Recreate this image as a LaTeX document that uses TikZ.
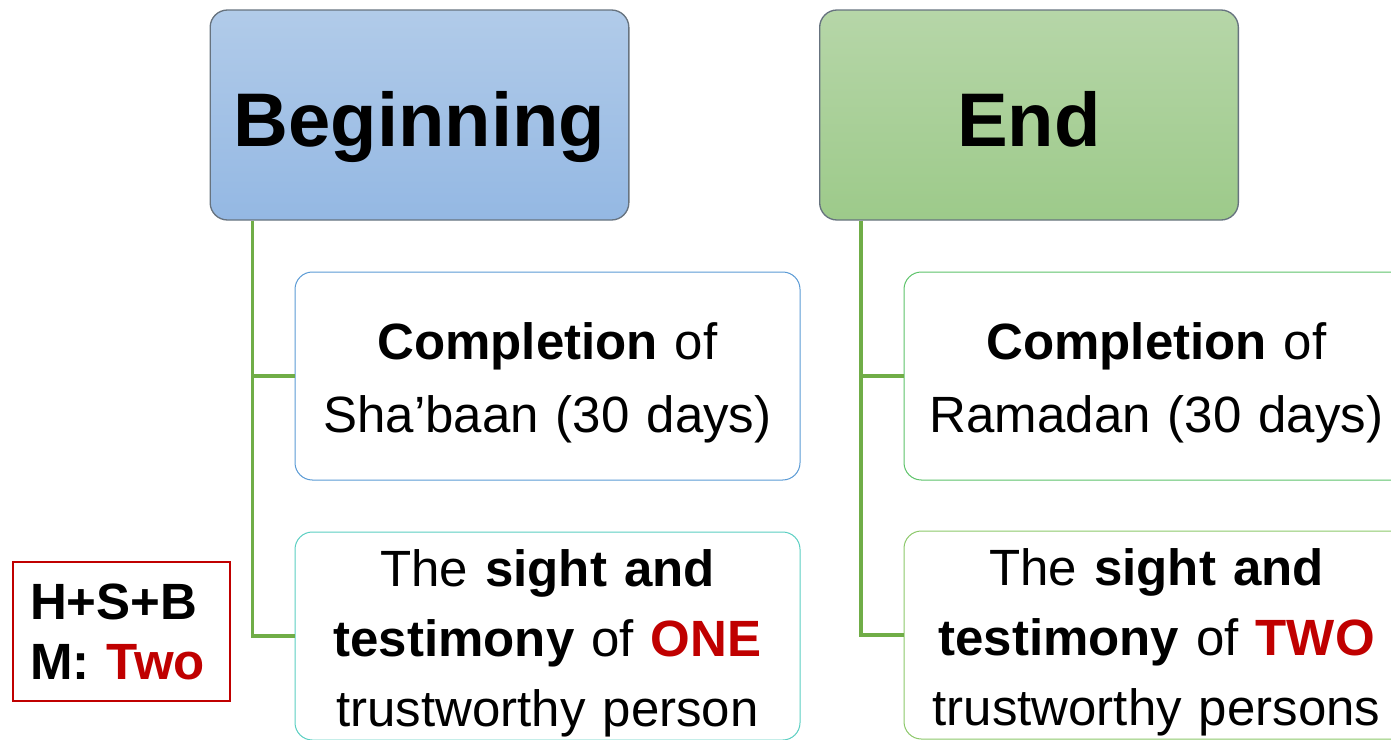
\documentclass[tikz,border=0pt]{standalone}
\usepackage{fontspec}
\setmainfont{Liberation Sans}
\usetikzlibrary{positioning, calc}

\definecolor{blueTop}{HTML}{B1CBE9}
\definecolor{blueBot}{HTML}{94B8E3}
\definecolor{greenTop}{HTML}{B6D6A8}
\definecolor{greenBot}{HTML}{9DCA8A}
\definecolor{headEdge}{HTML}{67737F}
\definecolor{linkGreen}{HTML}{70AD47}
\definecolor{edgeBlue}{HTML}{5B9BD5}
\definecolor{edgeTeal}{HTML}{5BCFC2}
\definecolor{edgeGreen}{HTML}{5DC36A}
\definecolor{edgeLime}{HTML}{8CC86A}
\definecolor{hsbRed}{HTML}{C00000}

\begin{document}
\begin{tikzpicture}[x=0.75pt, y=0.75pt,
  head/.style={rectangle, rounded corners=13pt, draw=headEdge, line width=1pt, minimum width=314pt, minimum height=157.5pt, font=\fontsize{57}{68}\selectfont\bfseries, text height=59.3pt, text depth=11.4pt},
  item/.style={rectangle, rounded corners=13pt, fill=white, line width=0.75pt, minimum width=378.75pt, minimum height=156pt, text width=352pt, align=center, inner sep=4pt, text height=28.7pt},
  comp/.style={item, font=\fontsize{38.25}{54.75}\selectfont, text depth=53pt},
  sight/.style={item, font=\fontsize{38.25}{52.5}\selectfont, text depth=103.5pt},
  note/.style={rectangle, draw=hsbRed, line width=1pt, minimum width=162.75pt, minimum height=104.25pt, text width=137pt, align=left, inner sep=2pt, font=\fontsize{38.25}{45}\selectfont\bfseries, text height=28.7pt, text depth=46pt},
  link/.style={draw=linkGreen, line width=2.3pt}]

\useasboundingbox (0,0) rectangle (1391,-739);
\clip (0,0) rectangle (1391,-739);

% headings
\node[head, top color=blueTop, bottom color=blueBot] (begin) at (419.5,-115) {Beginning};
\node[head, top color=greenTop, bottom color=greenBot] (end) at (1029,-115) {End};

% conditions for the beginning
\node[comp, draw=edgeBlue] (compA) at (547.5,-376) {\textbf{Completion} of\\Sha’baan (30 days)};
\node[sight, draw=edgeTeal] (sightA) at (547.5,-636) {The \textbf{sight and}\\\textbf{testimony} of \textcolor{hsbRed}{\textbf{ONE}}\\trustworthy person};

% conditions for the end
\node[comp, draw=edgeGreen] (compB) at (1156.5,-376) {\textbf{Completion} of\\Ramadan (30 days)};
\node[sight, draw=edgeLime] (sightB) at (1156.5,-635) {The \textbf{sight and}\\\textbf{testimony} of \textcolor{hsbRed}{\textbf{TWO}}\\trustworthy persons};

\node[note] (hsb) at (121.5,-631.5) {H+S+B\\M: \textcolor{hsbRed}{Two}};

\draw[link] ([xshift=32.25pt]begin.south west) |- (compA.west);
\draw[link] ([xshift=32.25pt]begin.south west) |- (sightA.west);
\draw[link] ([xshift=31.5pt]end.south west) |- (compB.west);
\draw[link] ([xshift=31.5pt]end.south west) |- (sightB.west);

\end{tikzpicture}
\end{document}
